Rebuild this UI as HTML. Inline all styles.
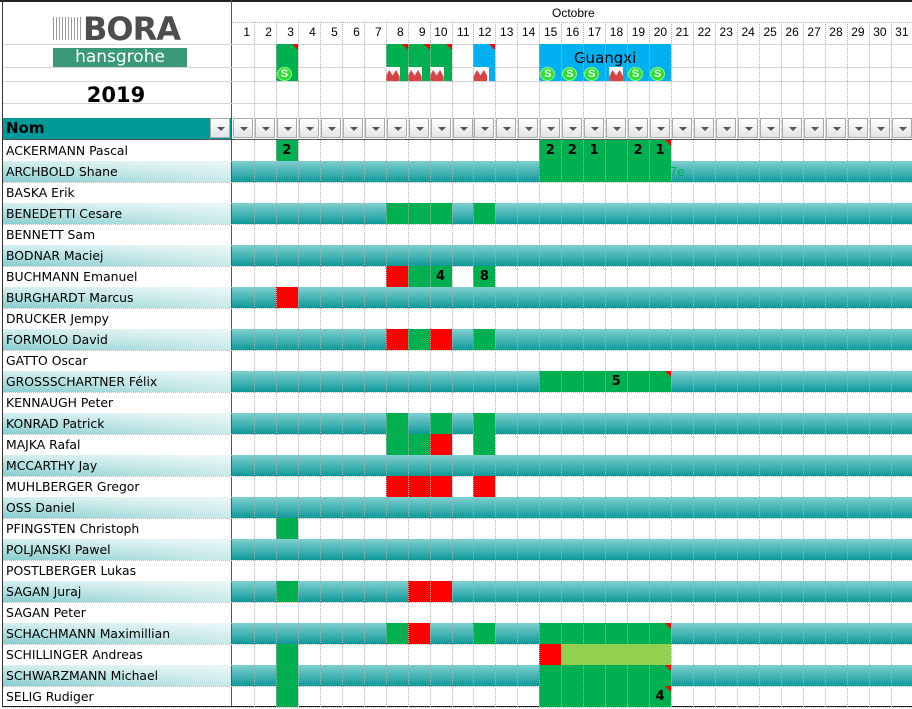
<!DOCTYPE html>
<html><head><meta charset="utf-8">
<style>
*{margin:0;padding:0;box-sizing:border-box}
body{width:912px;height:709px;overflow:hidden;background:#fff;font-family:"Liberation Sans",sans-serif;position:relative}
.a{position:absolute}
.hl{position:absolute;height:0;border-top:1px solid #d4d4d4}
.vl{position:absolute;width:0;border-left:1px dotted #b0b0b0}
.name{position:absolute;left:3px;width:228px;height:21px;line-height:22px;padding-left:3px;color:#000;font-family:"DejaVu Sans",sans-serif;font-size:12.4px}
.odd{background:linear-gradient(to right,rgba(255,255,255,0) 0%,rgba(255,255,255,.55) 100%),linear-gradient(#d6efef,#86cdcd)}
.rrow{position:absolute;left:232px;width:680px;height:21px}
.rodd{background:linear-gradient(#80d0d0,#0f9999)}
.c{position:absolute;width:22px;height:21px;font-weight:bold;font-size:13px;text-align:center;line-height:22px;font-family:"DejaVu Sans",sans-serif}
.g{background:#00b050}.r{background:#ff0000}.lg{background:#92d050}.b{background:#00b0f0}
.corner{position:absolute;right:0;top:0;width:0;height:0;border-left:6px solid transparent;border-top:6px solid #f00}
.day{position:absolute;top:25px;width:22px;text-align:right;padding-right:4px;font-size:12px}
.btn{position:absolute;top:118px;width:20px;height:20px;border:1px solid #aaa;background:linear-gradient(#fff,#e4e4e8)}
.btn:after{content:"";position:absolute;left:6px;top:8px;border-left:4px solid transparent;border-right:4px solid transparent;border-top:4px solid #555}
.s{position:absolute;top:67px;width:15px;height:14px;border-radius:50%;background:#2ee02e;border:1px solid #8f8;color:#fff;font-weight:bold;font-size:11px;line-height:12px;text-align:center}
.m{position:absolute;top:67px;width:14px;height:14px;background:linear-gradient(#fff,#fde);}
.m:after{content:"";position:absolute;left:0;bottom:0;width:14px;height:11px;background:#d84444;clip-path:polygon(0 100%,0 60%,25% 0,50% 50%,75% 0,100% 60%,100% 100%)}
</style></head><body>
<div class="a" style="left:0;top:0;width:912px;border-top:2px solid #222"></div>
<div class="a" style="left:2px;top:0;height:707px;border-left:1px solid #333"></div>
<div class="a" style="left:231px;top:0;height:707px;border-left:1px solid #555"></div>
<div class="a" style="left:2px;top:706px;width:910px;border-top:1px solid #222"></div>
<div class="hl" style="left:232px;top:22px;width:680px;border-top:1px dotted #bbb"></div>
<div class="hl" style="left:3px;top:44px;width:909px"></div>
<div class="hl" style="left:3px;top:67px;width:909px"></div>
<div class="hl" style="left:3px;top:81px;width:909px"></div>
<div class="hl" style="left:3px;top:103px;width:909px"></div>
<div class="hl" style="left:3px;top:139px;width:909px;border-top:1px solid #555"></div>
<div class="a" style="left:53px;top:17px;width:29px;height:23px;background:repeating-linear-gradient(to right,#999 0 1px,#fff 1px 3px)"></div>
<div class="a" style="left:83px;top:10px;font-size:32px;font-weight:bold;color:#4d4d4d;font-family:'DejaVu Sans',sans-serif;letter-spacing:-1px">BORA</div>
<div class="a" style="left:53px;top:48px;width:134px;height:19px;background:#3a9a78;color:#fff;font-size:17px;line-height:18px;text-align:center;font-family:'DejaVu Sans',sans-serif">hansgrohe</div>
<div class="a" style="left:0;width:232px;top:83px;text-align:center;font-size:21px;font-weight:bold;font-family:'DejaVu Sans',sans-serif">2019</div>
<div class="a" style="left:552px;top:6px;font-size:12px">Octobre</div>
<div class="a" style="left:3px;top:118px;width:228px;height:21px;background:#009999"></div>
<div class="a" style="left:6px;top:119px;font-size:15px;font-weight:bold;font-family:'DejaVu Sans',sans-serif">Nom</div>
<div class="btn" style="left:210px"></div>
<div id="g"></div>
<script>
const names=["ACKERMANN Pascal","ARCHBOLD Shane","BASKA Erik","BENEDETTI Cesare","BENNETT Sam","BODNAR Maciej","BUCHMANN Emanuel","BURGHARDT Marcus","DRUCKER Jempy","FORMOLO David","GATTO Oscar","GROSSSCHARTNER Félix","KENNAUGH Peter","KONRAD Patrick","MAJKA Rafal","MCCARTHY Jay","MUHLBERGER Gregor","OSS Daniel","PFINGSTEN Christoph","POLJANSKI Pawel","POSTLBERGER Lukas","SAGAN Juraj","SAGAN Peter","SCHACHMANN Maximillian","SCHILLINGER Andreas","SCHWARZMANN Michael","SELIG Rudiger"];
const W=21.95,X0=232;
const cx=d=>X0+(d-1)*W;
const G=(a,b)=>{let o={};for(let d=a;d<=b;d++)o[d]=['g'];return o};
const data={
0:Object.assign({3:['g','2']},{15:['g','2'],16:['g','2'],17:['g','1'],18:['g'],19:['g','2'],20:['g','1',1]}),
1:G(15,20),
3:{8:['g'],9:['g'],10:['g'],12:['g']},
6:{8:['r'],9:['g'],10:['g','4'],12:['g','8']},
7:{3:['r']},
9:{8:['r'],9:['g'],10:['r'],12:['g']},
11:Object.assign(G(15,20),{18:['g','5'],20:['g','',1]}),
13:{8:['g'],10:['g'],12:['g']},
14:{8:['g'],9:['g'],10:['r'],12:['g']},
16:{8:['r'],9:['r'],10:['r'],12:['r']},
18:{3:['g']},
21:{3:['g'],9:['r'],10:['r']},
23:Object.assign({8:['g'],9:['r'],12:['g']},G(15,20),{20:['g','',1]}),
24:{3:['g'],15:['r'],16:['lg'],17:['lg'],18:['lg'],19:['lg'],20:['lg']},
25:Object.assign({3:['g']},G(15,20),{20:['g','',1]}),
26:Object.assign({3:['g']},G(15,20),{20:['g','4',1]})
};
let h='';
names.forEach((n,i)=>{const y=140+i*21;
 h+=`<div class="name${i%2?' odd':''}" style="top:${y}px">${n}</div>`;
 h+=`<div class="rrow${i%2?' rodd':''}" style="top:${y}px"></div>`;
 const r=data[i]||{};
 for(const d in r){const v=r[d];h+=`<div class="c ${v[0]}" style="left:${cx(+d)}px;top:${y}px">${v[1]||''}${v[2]?'<div class="corner"></div>':''}</div>`;}
 h+=`<div class="hl" style="left:3px;top:${y+21}px;width:909px;border-top:1px dotted #bbb"></div>`;
});
h+=`<div class="a" style="left:670px;top:164px;font-size:13px;color:#00b050">7e</div>`;
[3,8,9,10].forEach(d=>h+=`<div class="c g" style="left:${cx(d)}px;top:44px;height:23px"><div class="corner"></div></div>`);
h+=`<div class="c b" style="left:${cx(12)}px;top:44px;height:23px"><div class="corner"></div></div>`;
h+=`<div class="a b" style="left:${cx(15)}px;top:44px;width:${6*W}px;height:37px;text-align:center;font-size:15px;line-height:28px;font-family:'DejaVu Sans',sans-serif">Guangxi</div>`;
[8,9,10].forEach(d=>h+=`<div class="a g" style="left:${cx(d)+14}px;top:67px;width:8px;height:14px"></div>`);
h+=`<div class="a b" style="left:${cx(12)+16}px;top:67px;width:6px;height:14px"></div>`;
h+=`<div class="a g" style="left:${cx(3)}px;top:67px;width:22px;height:14px"></div>`;
[3,15,16,17,19,20].forEach(d=>h+=`<div class="s" style="left:${cx(d)+1}px">S</div>`);
[8,9,10,12,18].forEach(d=>h+=`<div class="m" style="left:${cx(d)+(d==18?4:0)}px"></div>`);
for(let d=1;d<=31;d++){
 h+=`<div class="day" style="left:${cx(d)}px">${d}</div>`;
 h+=`<div class="btn" style="left:${cx(d)+1}px"></div>`;
 if(d>1)h+=`<div class="vl" style="left:${cx(d)}px;top:22px;height:685px"></div>`;
}
h+=`<div class="vl" style="left:${cx(32)}px;top:22px;height:685px"></div>`;
document.getElementById('g').innerHTML=h;
</script>
</body></html>
